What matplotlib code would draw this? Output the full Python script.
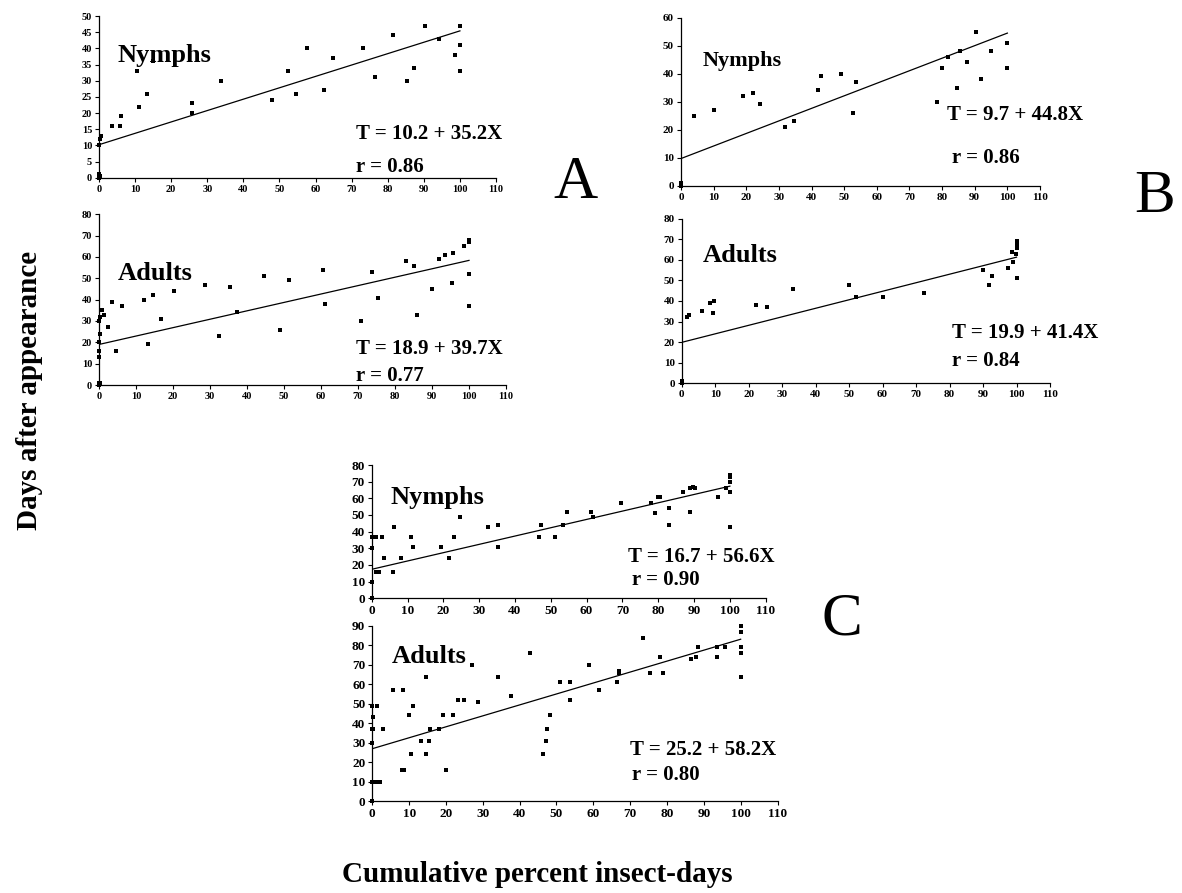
import matplotlib
matplotlib.use('Agg')
import matplotlib.pyplot as plt
import numpy as np

# --- data (X = cumulative percent insect-days, T = days) ---
a_nymph_x = [0, 0, 0.2, 0, 0.4, 0.6, 3.6, 5.7, 6.1, 10.5, 11, 13.3, 14.9, 25.9, 25.9, 33.8,
             47.8, 52.4, 54.7, 57.5, 62.3, 64.8, 73.2, 76.5, 81.4, 85.4, 87.3, 90.4, 94.1,
             98.6, 100, 100, 100]
a_nymph_y = [0, 1, 0.5, 10, 12, 13, 16, 16, 19, 33, 22, 26, 36, 23, 20, 30,
             24, 33, 26, 40, 27, 37, 40, 31, 44, 30, 34, 47, 43,
             38, 47, 41, 33]

a_adult_x = [0, 0.3, 0, 0, 0, 0, 0.2, 0.1, 0.4, 0.8, 1.3, 2.4, 3.5, 4.7, 6.1, 12.2, 13.3,
             14.6, 16.8, 20.2, 28.6, 32.5, 35.4, 37.2, 44.5, 49, 51.3, 60.6, 61, 70.9, 73.8,
             75.3, 83.1, 85.2, 85.9, 89.9, 91.9, 93.4, 95.7, 95.4, 98.6, 100, 100, 100, 100]
a_adult_y = [0, 1, 1, 13, 16, 20, 24, 30, 32, 35, 33, 27, 39, 16, 37, 40, 19,
             42, 31, 44, 47, 23, 46, 34, 51, 26, 49, 54, 38, 30, 53,
             41, 58, 56, 33, 45, 59, 61, 62, 48, 65, 68, 67, 52, 37]

b_nymph_x = [0, 0, 3.9, 10.2, 18.9, 22.1, 24.3, 31.8, 34.7, 42.1, 43, 48.9, 52.7, 53.5,
             78.4, 80.1, 81.7, 84.5, 85.5, 87.6, 90.3, 91.9, 94.9, 100, 100]
b_nymph_y = [0, 1, 25, 27, 32, 33, 29, 21, 23, 34, 39, 40, 26, 37,
             30, 42, 46, 35, 48, 44, 55, 38, 48, 51, 42]

b_adult_x = [0, 0.2, 1.7, 2.3, 6.1, 8.5, 9.2, 9.5, 22.2, 25.5, 33.1, 50, 52, 60.2, 72.3,
             90, 91.9, 92.8, 97.5, 98.6, 99, 99.7, 100, 100, 100.2, 100]
b_adult_y = [0, 1, 32, 33, 35, 39, 34, 40, 38, 37, 46, 48, 42, 42, 44,
             55, 48, 52, 56, 64, 59, 63, 67, 69, 66, 51]

c_nymph_x = [0, 0, 0, 0, 1.2, 3, 1.2, 2.1, 3.3, 6.1, 6, 8.2, 11, 11.5, 19.4, 21.6, 22.9,
             24.6, 32.4, 35.2, 35.3, 46.7, 47.3, 51.3, 53.4, 54.6, 61.2, 61.8, 69.7, 78,
             79.2, 79.8, 80.6, 83, 83, 87, 88.8, 88.8, 89.6, 90.4, 96.6, 98.9,
             100, 100, 100, 100, 100]
c_nymph_y = [0, 10, 30, 37, 37, 37, 16, 16, 24, 43, 16, 24, 37, 31, 31, 24, 37,
             49, 43, 31, 44, 37, 44, 37, 44, 52, 52, 49, 57, 57,
             51, 61, 61, 54, 44, 64, 52, 66, 67, 66, 61, 66,
             74, 73, 70, 64, 43]

c_adult_x = [0, 0, 0.7, 1.4, 2.2, 0, 0, 0.3, 0.2, 0, 1.4, 3, 5.6, 8, 8.5, 8.2, 10, 10.4,
             11.1, 13.3, 14.6, 14.6, 15.4, 15.7, 18.2, 19.3, 20.1, 22, 23.4, 24.9, 27,
             28.7, 34.2, 37.6, 42.8, 46.4, 47.1, 47.5, 48.2, 50.9, 53.6, 53.8, 58.9, 61.5,
             66.5, 67, 67, 73.4, 75.4, 78.2, 79, 86.5, 88, 88.3, 93.7, 93.7, 95.7,
             100, 100, 100, 100, 100]
c_adult_y = [0, 10, 10, 10, 10, 30, 37, 37, 43, 49, 49, 37, 57, 16, 16, 57, 44, 24,
             49, 31, 64, 24, 31, 37, 37, 44, 16, 44, 52, 52, 70,
             51, 64, 54, 76, 24, 31, 37, 44, 61, 52, 61, 70, 57,
             61, 67, 66, 84, 66, 74, 66, 73, 74, 79, 74, 79, 79,
             90, 87, 79, 76, 64]

# fitted lines as drawn: T at X=0 and at X=100
fit_x = [0, 100]
a_nymph_fit = [10.2, 45.4]
a_adult_fit = [19.0, 58.4]
b_nymph_fit = [9.7, 54.5]
b_adult_fit = [19.9, 61.3]
c_nymph_fit = [17.4, 67.3]
c_adult_fit = [26.9, 83.2]

equations = ['T = 10.2 + 35.2X', 'T = 18.9 + 39.7X', 'T = 9.7 + 44.8X',
             'T = 19.9 + 41.4X', 'T = 16.7 + 56.6X', 'T = 25.2 + 58.2X']
r_values = ['r = 0.86', 'r = 0.77', 'r = 0.86', 'r = 0.84', 'r = 0.90', 'r = 0.80']

W, H = 1182, 893
SERIF = ['Liberation Serif', 'DejaVu Serif']

fig = plt.figure(figsize=(W / 100, H / 100), dpi=100)


def fx(x):
    return x / W


def fy(y):
    return 1 - y / H


def panel(box, xs, ys, fit, ytop, ystep, name, name_at, name_size,
          eq, r, eq_at, r_at, tick_size):
    left, top, right, bottom = box
    ax = fig.add_axes([fx(left), fy(bottom), (right - left) / W, (bottom - top) / H])
    ax.plot(fit_x, fit, color='black', lw=0.9)
    ax.plot(xs, ys, 's', color='black', ms=3.3, mew=0, clip_on=False)
    ax.set_xlim(0, 110)
    ax.set_ylim(0, ytop)
    ax.set_xticks(np.arange(0, 111, 10))
    ax.set_yticks(np.arange(0, ytop + 1, ystep))
    for s in ['top', 'right']:
        ax.spines[s].set_visible(False)
    for s in ['left', 'bottom']:
        ax.spines[s].set_linewidth(0.9)
    ax.tick_params(direction='out', length=3, width=0.8, pad=2, labelsize=tick_size)
    for lab in ax.get_xticklabels() + ax.get_yticklabels():
        lab.set_family(SERIF)
        lab.set_fontweight('bold')
    fig.text(fx(name_at[0]), fy(name_at[1]), name, family=SERIF, weight='bold',
             fontsize=name_size, va='baseline', ha='left')
    fig.text(fx(eq_at[0]), fy(eq_at[1]), eq, family=SERIF, weight='bold',
             fontsize=15, va='baseline', ha='left')
    fig.text(fx(r_at[0]), fy(r_at[1]), r, family=SERIF, weight='bold',
             fontsize=15, va='baseline', ha='left')
    return ax


panel((99, 16, 496, 177.7), a_nymph_x, a_nymph_y, a_nymph_fit, 50, 5,
      'Nymphs', (118, 62), 19, equations[0], r_values[0], (356, 139), (356, 172), 7.5)
panel((99, 214.3, 506, 385), a_adult_x, a_adult_y, a_adult_fit, 80, 10,
      'Adults', (118, 280), 19, equations[1], r_values[1], (356, 354), (356, 381), 7.5)
panel((681, 17.7, 1040, 185.7), b_nymph_x, b_nymph_y, b_nymph_fit, 60, 10,
      'Nymphs', (703, 66), 16, equations[2], r_values[2], (947, 120), (952, 163), 8)
panel((681.7, 218.7, 1050, 383.3), b_adult_x, b_adult_y, b_adult_fit, 80, 10,
      'Adults', (703, 262), 19, equations[3], r_values[3], (952, 338), (952, 366), 8)
panel((371.7, 465, 765.7, 598.3), c_nymph_x, c_nymph_y, c_nymph_fit, 80, 10,
      'Nymphs', (391, 504), 19, equations[4], r_values[4], (628, 562), (632, 585), 9.5)
panel((372.3, 626, 777.5, 801), c_adult_x, c_adult_y, c_adult_fit, 90, 10,
      'Adults', (392, 663), 19, equations[5], r_values[5], (630, 755), (632, 780), 9.5)

# panel letters and shared axis titles
for letter, (x, y) in zip(['A', 'B', 'C'], [(575, 183), (1155, 197), (842, 620)]):
    fig.text(fx(x), fy(y), letter, family=SERIF, fontsize=44, ha='center', va='center')

fig.text(fx(30), fy(390), 'Days after appearance', family=SERIF, weight='bold',
         fontsize=21, rotation=90, ha='center', va='center')
fig.text(fx(537), fy(875), 'Cumulative percent insect-days', family=SERIF,
         weight='bold', fontsize=21, ha='center', va='center')

fig.savefig('out.png', dpi=100)
